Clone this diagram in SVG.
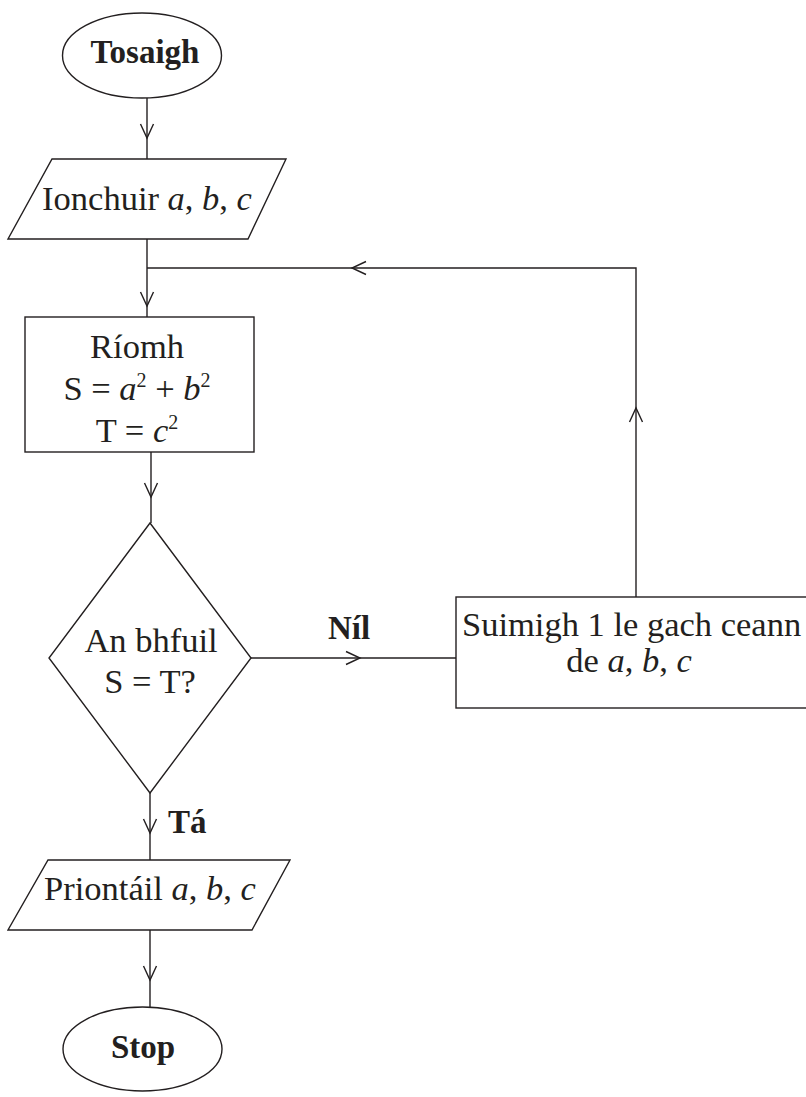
<svg xmlns="http://www.w3.org/2000/svg" width="806" height="1097" viewBox="0 0 806 1097">
<style>
.s{fill:none;stroke:#231f20;stroke-width:1.4}
.n{fill:#fff;stroke:#231f20;stroke-width:1.4}
.t{font-family:"Liberation Serif","Times New Roman",serif;font-size:34.5px;fill:#231f20}
.b{font-family:"Liberation Serif","Times New Roman",serif;font-size:33px;font-weight:bold;fill:#231f20}
.c{text-anchor:middle}
.i{font-style:italic}
</style>
<defs>
<marker id="ah" markerUnits="userSpaceOnUse" viewBox="-16 -9 18 18" refX="0" refY="0" markerWidth="18" markerHeight="18" orient="auto" overflow="visible">
<path d="M-14,-6.5 L0,0 L-14,6.5" fill="none" stroke="#231f20" stroke-width="1.4"/>
</marker>
</defs>
<rect width="806" height="1097" fill="#fff"/>
<g id="connectors">
<path class="s" d="M147 98 V138" marker-end="url(#ah)"/>
<path class="s" d="M147 138 V159"/>
<path class="s" d="M147 239 V306" marker-end="url(#ah)"/>
<path class="s" d="M147 306 V317"/>
<path class="s" d="M636 597 V408" marker-end="url(#ah)"/>
<path class="s" d="M636 408 V268 H352" marker-end="url(#ah)"/>
<path class="s" d="M352 268 H147"/>
<path class="s" d="M151 452 V497" marker-end="url(#ah)"/>
<path class="s" d="M151 497 V523"/>
<path class="s" d="M251 658 H360" marker-end="url(#ah)"/>
<path class="s" d="M360 658 H456"/>
<path class="s" d="M150 793 V833" marker-end="url(#ah)"/>
<path class="s" d="M150 833 V860"/>
<path class="s" d="M150 930 V980" marker-end="url(#ah)"/>
<path class="s" d="M150 980 V1007"/>
<text class="b c" x="349" y="639">Níl</text>
<text class="b" x="168" y="833">Tá</text>
</g>
<g id="start">
<ellipse class="n" cx="142" cy="55.5" rx="79.5" ry="42.5"/>
<text class="b c" x="145" y="63">Tosaigh</text>
</g>
<g id="input">
<polygon class="n" points="52,159 286,159 248,239 8,239"/>
<text class="t c" x="147" y="210">Ionchuir <tspan class="i">a</tspan>, <tspan class="i">b</tspan>, <tspan class="i">c</tspan></text>
</g>
<g id="compute">
<rect class="n" x="25" y="317" width="229" height="135"/>
<text class="t c" x="137" y="358">Ríomh</text>
<text class="t c" x="137" y="400">S = <tspan class="i">a</tspan><tspan font-size="20" dy="-13">2</tspan><tspan dy="13"> + </tspan><tspan class="i">b</tspan><tspan font-size="20" dy="-13">2</tspan></text>
<text class="t c" x="137" y="442">T = <tspan class="i">c</tspan><tspan font-size="20" dy="-13">2</tspan></text>
</g>
<g id="decision">
<polygon class="n" points="150,523 251,658 150,793 49,658"/>
<text class="t c" x="151" y="652">An bhfuil</text>
<text class="t c" x="150" y="693">S = T?</text>
</g>
<g id="increment">
<rect class="n" x="456" y="597" width="370" height="111"/>
<text class="t" x="462" y="636">Suimigh 1 le gach ceann</text>
<text class="t c" x="629" y="672">de <tspan class="i">a</tspan>, <tspan class="i">b</tspan>, <tspan class="i">c</tspan></text>
</g>
<g id="output">
<polygon class="n" points="48,860 290,860 252,930 8,930"/>
<text class="t c" x="150" y="900">Priontáil <tspan class="i">a</tspan>, <tspan class="i">b</tspan>, <tspan class="i">c</tspan></text>
</g>
<g id="stop">
<ellipse class="n" cx="142.5" cy="1049" rx="79.5" ry="42"/>
<text class="b c" x="143" y="1058">Stop</text>
</g>
</svg>
